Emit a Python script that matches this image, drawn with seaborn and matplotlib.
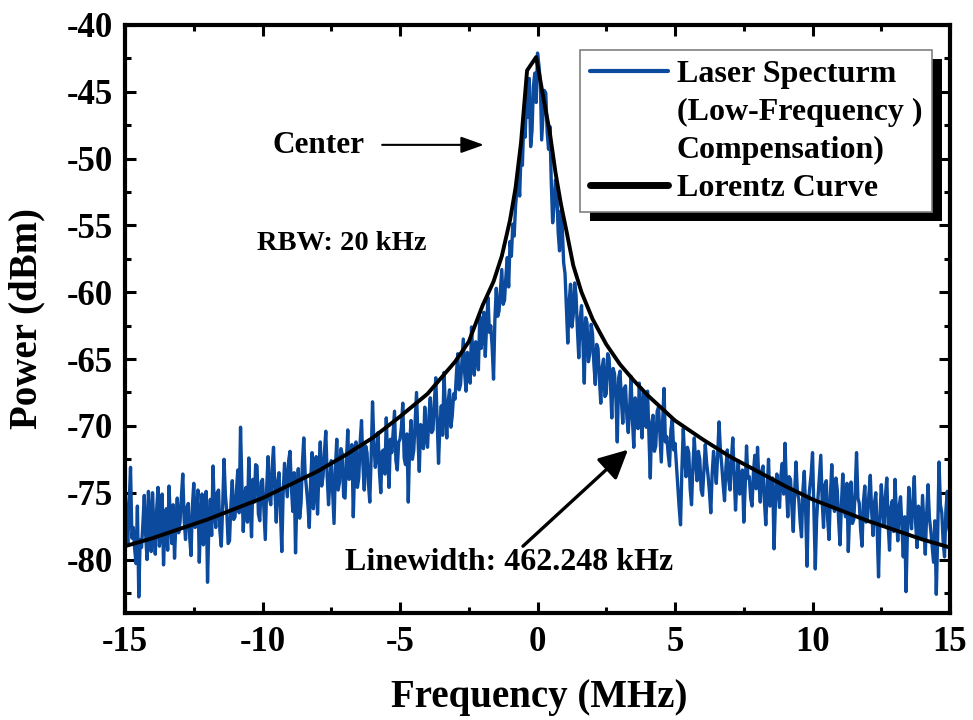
import numpy as np
import pandas as pd
import matplotlib
matplotlib.use("Agg")
import matplotlib.pyplot as plt
from matplotlib.lines import Line2D
from matplotlib.patches import Rectangle
from matplotlib.ticker import AutoMinorLocator
import seaborn as sns

# ---------------------------------------------------------------------------
# Measured beat-note spectrum, 0.05 MHz steps from -15 MHz to +15 MHz
# (one line per MHz, 20 samples each)
# ---------------------------------------------------------------------------
freq_mhz = np.linspace(-15.0, 15.0, 601)

power_dbm = [
    -74.4, -76.9, -78.9, -75.8, -73.1, -78.4, -77.6, -79.2, -80.3, -76.0, -82.8, -78.5, -79.1, -77.3, -75.2, -78.1, -80.0, -74.9, -76.8, -79.4,  # -15
    -75.0, -77.7, -79.6, -76.3, -74.6, -79.0, -77.9, -75.1, -80.4, -77.4, -76.2, -79.3, -74.5, -77.0, -78.8, -75.9, -79.9, -77.2, -75.4, -78.0,  # -14
    -77.2, -75.3, -73.6, -77.0, -78.5, -76.1, -75.8, -78.3, -79.7, -76.0, -74.3, -77.6, -76.9, -74.8, -80.2, -77.1, -75.1, -78.9, -77.8, -74.9,  # -13
    -81.7, -77.3, -75.5, -78.2, -73.0, -76.4, -77.6, -75.0, -74.8, -77.9, -79.0, -76.1, -72.5, -75.2, -76.4, -78.8, -78.6, -75.9, -74.1, -77.0,  # -12
    -76.8, -74.9, -73.3, -76.5, -70.1, -74.4, -77.9, -75.1, -74.6, -77.2, -72.4, -75.8, -78.3, -74.0, -75.7, -72.9, -73.0, -76.6, -77.1, -74.2,  # -11
    -74.0, -76.2, -78.5, -74.7, -72.3, -75.4, -75.9, -73.1, -71.6, -74.9, -77.2, -74.2, -73.5, -76.3, -79.4, -75.0, -72.8, -74.1, -75.3, -72.6,  # -10
    -71.9, -74.6, -76.4, -73.5, -79.5, -75.3, -73.2, -76.9, -75.8, -72.8, -70.9, -73.6, -74.7, -75.9, -77.6, -74.1, -72.0, -76.2, -74.9, -72.3,  # -9
    -76.6, -73.4, -71.2, -74.5, -73.8, -72.0, -70.4, -73.7, -75.9, -74.1, -72.6, -75.0, -77.3, -73.2, -71.0, -74.8, -74.2, -71.7, -72.1, -75.3,  # -8
    -75.4, -72.6, -70.3, -74.0, -73.5, -71.4, -76.8, -73.1, -71.2, -74.6, -73.9, -71.2, -69.6, -72.9, -74.8, -71.5, -72.0, -74.3, -75.7, -72.4,  # -7
    -68.2, -71.3, -73.1, -72.2, -70.5, -73.4, -75.0, -71.9, -71.8, -73.6, -69.4, -72.5, -74.6, -71.0, -72.0, -70.4, -68.9, -72.6, -73.3, -71.2,  # -6
    -71.0, -70.1, -68.3, -72.4, -72.9, -70.6, -75.7, -71.4, -69.6, -72.5, -71.8, -69.7, -67.5, -70.8, -73.4, -69.9, -70.2, -71.7, -68.6, -70.9,  # -5
    -71.6, -69.3, -67.9, -70.5, -70.3, -68.1, -66.4, -69.6, -72.8, -70.0, -68.5, -70.7, -66.0, -68.8, -70.9, -68.2, -67.3, -70.1, -69.2, -67.6,  # -4
    -68.0, -66.1, -64.6, -67.3, -66.9, -65.2, -63.5, -66.0, -67.4, -64.5, -65.1, -66.8, -62.6, -64.9, -66.2, -63.7, -64.0, -65.8, -61.8, -64.2,  # -3
    -63.2, -61.5, -64.8, -62.3, -60.4, -63.0, -62.5, -64.1, -66.5, -62.0, -59.7, -61.8, -61.4, -59.9, -58.3, -60.9, -60.6, -58.8, -57.4, -59.6,  # -2
    -56.2, -57.3, -54.9, -55.8, -53.6, -52.3, -51.4, -52.8, -49.6, -50.5, -47.2, -48.4, -45.3, -46.9, -44.0, -49.1, -47.9, -44.6, -43.6, -45.8,  # -1
    -42.1, -43.0, -44.2, -48.6, -46.8, -44.9, -45.1, -48.0, -49.3, -47.6, -51.8, -54.8, -53.5, -51.6, -52.4, -55.5, -56.9, -53.9, -55.2, -57.8,  # 0
    -58.6, -61.2, -63.8, -60.7, -59.4, -62.6, -61.7, -59.3, -60.2, -62.8, -64.9, -62.0, -61.0, -63.7, -66.8, -61.9, -62.3, -65.2, -64.6, -62.4,  # 1
    -63.1, -65.4, -66.9, -63.9, -64.2, -66.5, -68.3, -65.6, -65.0, -67.8, -67.6, -64.6, -64.9, -66.8, -69.4, -65.7, -66.1, -68.0, -71.2, -66.4,  # 2
    -65.9, -68.1, -69.8, -67.2, -67.0, -69.4, -70.5, -68.6, -66.3, -69.5, -71.6, -67.9, -68.4, -70.2, -66.8, -69.3, -70.9, -67.5, -68.0, -70.1,  # 3
    -67.4, -70.6, -73.9, -69.8, -69.2, -71.9, -71.5, -68.9, -68.6, -70.7, -72.7, -69.6, -67.2, -71.2, -70.8, -72.1, -73.0, -70.3, -69.5, -71.8,  # 4
    -71.3, -72.9, -74.6, -76.1, -77.4, -73.2, -70.2, -72.4, -73.8, -71.6, -72.0, -74.7, -75.9, -73.0, -70.9, -72.8, -74.1, -71.9, -72.5, -74.8,  # 5
    -75.2, -73.3, -71.4, -72.8, -73.7, -74.9, -76.5, -73.6, -71.9, -73.0, -74.3, -72.2, -69.7, -71.8, -73.0, -74.4, -75.6, -73.1, -71.8, -74.0,  # 6
    -74.8, -72.5, -70.9, -73.7, -76.3, -74.0, -72.6, -75.1, -74.9, -73.3, -77.2, -74.6, -71.5, -73.9, -73.8, -75.4, -76.0, -73.5, -72.2, -74.7,  # 7
    -71.6, -74.2, -75.7, -73.4, -73.0, -75.6, -77.4, -74.7, -72.5, -76.0, -75.2, -73.9, -79.2, -75.8, -73.6, -74.6, -76.1, -73.7, -72.8, -75.1,  # 8
    -71.3, -74.5, -76.8, -73.8, -74.0, -76.1, -77.9, -74.9, -72.7, -75.0, -75.5, -77.2, -78.3, -74.8, -73.4, -76.4, -80.5, -75.7, -74.6, -73.6,  # 9
    -72.0, -76.5, -80.7, -76.9, -75.3, -73.8, -72.2, -75.6, -77.6, -74.4, -74.1, -77.0, -78.5, -75.2, -72.9, -75.8, -76.4, -73.9, -74.8, -77.1,  # 10
    -78.9, -75.9, -73.6, -76.0, -76.8, -74.3, -79.4, -76.6, -74.2, -77.3, -77.0, -74.9, -72.0, -75.4, -75.8, -77.8, -79.0, -75.7, -74.5, -77.2,  # 11
    -76.9, -75.1, -73.7, -76.4, -78.2, -75.8, -75.0, -77.7, -81.3, -77.0, -74.4, -76.2, -77.5, -75.3, -73.9, -77.4, -79.3, -76.1, -75.6, -77.9,  # 12
    -74.0, -76.7, -78.6, -76.0, -75.3, -77.5, -79.8, -76.8, -82.4, -78.0, -74.6, -76.5, -77.7, -75.6, -73.8, -77.3, -79.1, -76.0, -76.3, -78.4,  # 13
    -75.2, -77.4, -79.6, -76.6, -74.4, -76.9, -77.8, -79.0, -80.2, -77.1, -82.6, -78.3, -72.7, -75.9, -76.5, -78.7, -79.8, -76.3, -74.9, -77.6,  # 14
    -78.1,  # 15
]

# Lorentz fit, sampled points
lorentz_freq = [-15, -14, -13, -12, -11, -10, -9, -8, -7, -6, -5, -4, -3, -2.5,
                -2, -1.6, -1.3, -1.0, -0.8, -0.6, -0.38, -0.05, 0.2, 0.45,
                0.65, 0.85, 1.05, 1.3, 1.6, 2.0, 2.5, 3.0, 3.5, 4, 5, 6, 7, 8,
                9, 10, 11, 12, 13, 14, 15]
lorentz_power = [-79.0, -78.4, -77.7, -77.0, -76.2, -75.4, -74.4, -73.4, -72.2,
                 -70.9, -69.3, -67.6, -65.2, -63.7, -61.0, -59.2, -57.3, -54.6,
                 -52.2, -48.8, -43.4, -42.4, -45.3, -48.1, -51.0, -53.4, -55.4,
                 -58.0, -60.0, -62.0, -63.9, -65.4, -66.6, -67.7, -69.6, -71.0,
                 -72.3, -73.4, -74.5, -75.5, -76.3, -77.1, -77.8, -78.5, -79.1]

x_ticks = [-15, -10, -5, 0, 5, 10, 15]
y_ticks = [-80, -75, -70, -65, -60, -55, -50, -45, -40]

BLUE = "#0b4a9c"

# ---------------------------------------------------------------------------
sns.set_theme(style="ticks")
plt.rcParams["font.family"] = ["Liberation Serif", "DejaVu Serif"]
plt.rcParams["font.weight"] = "bold"
plt.rcParams["axes.unicode_minus"] = False
for key in ("text.color", "axes.labelcolor", "xtick.color", "ytick.color",
            "axes.edgecolor"):
    plt.rcParams[key] = "black"

fig = plt.figure(figsize=(9.73, 7.2), dpi=100)
ax = fig.add_axes([0.1285, 0.1486, 0.8479, 0.8167])

spec = pd.DataFrame({"freq": freq_mhz, "power": power_dbm})
fit = pd.DataFrame({"freq": lorentz_freq, "power": lorentz_power})

sns.lineplot(data=spec, x="freq", y="power", ax=ax, color=BLUE, lw=2.4,
             estimator=None, sort=False, legend=False)
sns.lineplot(data=fit, x="freq", y="power", ax=ax, color="black", lw=2.8,
             estimator=None, sort=False, legend=False)

ax.set_xlim(-15, 15)
ax.set_ylim(-84, -40)
ax.set_xticks(x_ticks)
ax.set_yticks(y_ticks)
ax.set_xticklabels([str(v) for v in x_ticks])
ax.set_yticklabels([str(v) for v in y_ticks])
ax.xaxis.set_minor_locator(AutoMinorLocator(2))
ax.yaxis.set_minor_locator(AutoMinorLocator(2))

ax.tick_params(which="both", direction="in", top=True, right=True,
               width=2.2, labelsize=25, pad=9, colors="black")
ax.tick_params(which="major", length=8)
ax.tick_params(which="minor", length=4.5)
for lab in ax.get_xticklabels() + ax.get_yticklabels():
    lab.set_fontweight("bold")
for s in ax.spines.values():
    s.set_linewidth(3.0)
    s.set_color("black")

ax.set_xlabel("Frequency (MHz)", fontsize=28, fontweight="bold")
ax.set_ylabel("Power (dBm)", fontsize=28, fontweight="bold")
ax.xaxis.set_label_coords(0.502, -0.112)
ax.yaxis.set_label_coords(-0.097, 0.5)

# annotations
ax.text(-9.62, -49.57, "Center", fontsize=22.5, fontweight="bold", ha="left",
        va="baseline")
ax.annotate("", xy=(-1.95, -48.97), xytext=(-5.65, -48.97),
            arrowprops=dict(arrowstyle="-|>,head_length=0.7,head_width=0.25",
                            lw=1.5, color="black", mutation_scale=20,
                            shrinkA=0, shrinkB=0))
ax.text(-10.2, -56.8, "RBW: 20 kHz", fontsize=20.5, fontweight="bold",
        ha="left", va="baseline")
ax.text(-7.0, -80.75, "Linewidth: 462.248 kHz", fontsize=23,
        fontweight="bold", ha="left", va="baseline")
ax.annotate("", xy=(3.29, -71.78), xytext=(-0.53, -79.0),
            arrowprops=dict(arrowstyle="-|>,head_length=0.8,head_width=0.4",
                            lw=2.4, color="black", mutation_scale=22,
                            shrinkA=0, shrinkB=0))

# legend with offset black shadow
handles = [
    Line2D([], [], color=BLUE, lw=3.0, solid_capstyle="round"),
    Line2D([], [], color="none", lw=0),
    Line2D([], [], color="none", lw=0),
    Line2D([], [], color="black", lw=5.0, solid_capstyle="round"),
]
labels = ["Laser Specturm", "(Low-Frequency )", "Compensation)", "Lorentz Curve"]
leg = ax.legend(handles, labels, loc="upper left",
                bbox_to_anchor=(0.5515, 0.9575), borderaxespad=0,
                frameon=True, fancybox=False, edgecolor="#808080",
                framealpha=1, facecolor="white",
                prop=dict(family="Liberation Serif", weight="bold", size=23),
                handlelength=2.45, handletextpad=0.28, labelspacing=0.27,
                borderpad=0.3)
leg.get_frame().set_linewidth(1.2)
leg.set_zorder(5)

fig.canvas.draw()
bb = leg.get_window_extent()
inv = ax.transAxes.inverted()
(sx0, sy0), (sx1, sy1) = inv.transform([[bb.x0 + 10, bb.y0 - 9],
                                        [bb.x1 + 10, bb.y1 - 9]])
ax.add_patch(Rectangle((sx0, sy0), sx1 - sx0, sy1 - sy0, transform=ax.transAxes,
                       facecolor="black", edgecolor="none", zorder=4.5,
                       clip_on=False))

fig.savefig("out.png", dpi=100)
